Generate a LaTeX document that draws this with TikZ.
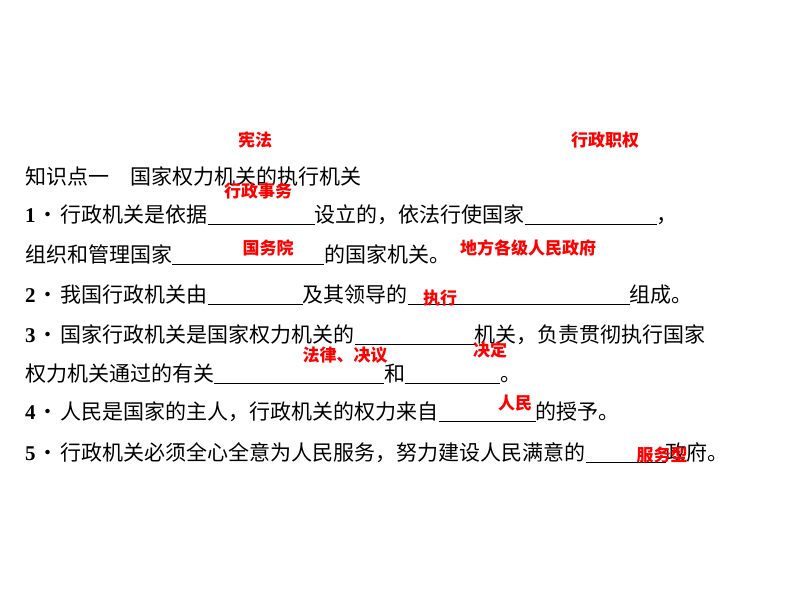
\documentclass[tikz,border=0pt]{standalone}
\usepackage{fontspec}
\setmainfont{Liberation Serif}
\newfontfamily\cjk{Noto Sans CJK SC}
\begin{document}
\begin{tikzpicture}[x=1pt,y=-1pt,
  ln/.style={anchor=base west,inner sep=0pt,font=\cjk\fontsize{21}{21}\selectfont},
  ans/.style={font=\cjk\bfseries\fontsize{17}{17}\selectfont,text=red,inner sep=0pt}]
\newcommand\bl[1]{\rule[-3pt]{#1pt}{0.6pt}}
\newcommand\nm[1]{{\rmfamily\bfseries #1}\kern2pt·\kern2pt}
\useasboundingbox[fill=white] (0,0) rectangle (794,596);
\node[ln] (t0) at (25,184) {知识点一\hspace{1em}国家权力机关的执行机关};
\node[ln] (t1) at (25,222) {\nm{1}行政机关是依据\bl{107}设立的，依法行使国家\bl{132}，};
\node[ln] (t2) at (25,262) {组织和管理国家\bl{152}的国家机关。};
\node[ln] (t3) at (25,302) {\nm{2}我国行政机关由\bl{95}及其领导的\bl{222}组成。};
\node[ln] (t4) at (25,342) {\nm{3}国家行政机关是国家权力机关的\bl{120}机关，负责贯彻执行国家};
\node[ln] (t5) at (25,381) {权力机关通过的有关\bl{170}和\bl{95}。};
\node[ln] (t6) at (25,419) {\nm{4}人民是国家的主人，行政机关的权力来自\bl{97}的授予。};
\node[ln] (t7) at (25,460) {\nm{5}行政机关必须全心全意为人民服务，努力建设人民满意的\bl{80}政府。};
\node[ans] (a1) at (255,140) {宪法};
\node[ans] (a2) at (605,140) {行政职权};
\node[ans] (a3) at (258,191) {行政事务};
\node[ans] (a4) at (268,248) {国务院};
\node[ans] (a5) at (528,248) {地方各级人民政府};
\node[ans] (a6) at (440,298) {执行};
\node[ans] (a7) at (345,355) {法律、决议};
\node[ans] (a8) at (490,350) {决定};
\node[ans] (a9) at (515,403) {人民};
\node[ans] (a10) at (662,455) {服务型};
\end{tikzpicture}
\end{document}
